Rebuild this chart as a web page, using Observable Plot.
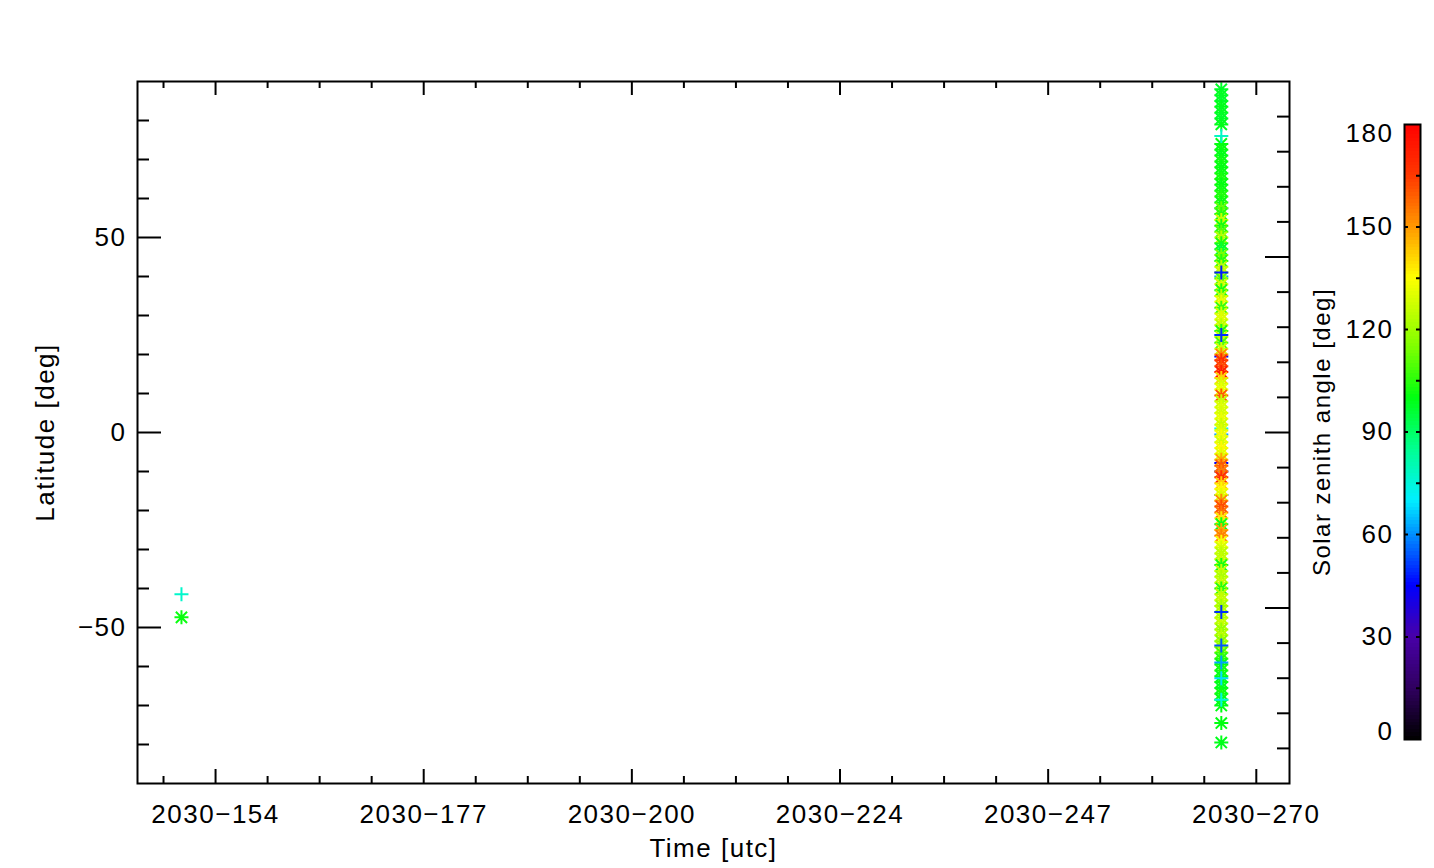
<!DOCTYPE html>
<html><head><meta charset="utf-8">
<script src="https://cdn.jsdelivr.net/npm/d3@7"></script>
<script src="https://cdn.jsdelivr.net/npm/@observablehq/plot@0.6"></script>
<style>
body{margin:0;background:#fff;}
#wrap{position:relative;width:1434px;height:868px;background:#fff;}
#wrap svg{position:absolute;top:0;background:transparent !important;}
#wrap text{letter-spacing:1.5px;}
</style></head><body><div id="wrap"></div>
<script>
// ---- axis ticks and labels ----
const xMajorTicks = [154, 177.2, 200.4, 223.6, 246.8, 270];
const xTickLabels = ["2030−154","2030−177","2030−200","2030−224","2030−247","2030−270"];
const xMinorTicks = [148.2,159.8,165.6,171.4,183.0,188.8,194.6,206.2,212.0,217.8,229.4,235.2,241.0,252.6,258.4,264.2];
const yMajorTicks = [-50, 0, 50];
const yTickLabels = ["−50", "0", "50"];
const yMinorTicks = [-80,-70,-60,-40,-30,-20,-10,10,20,30,40,60,70,80];
const yRightMajorTicks = [-45, 0, 45];
const yRightMinorTicks = [-81,-72,-63,-54,-36,-27,-18,-9,9,18,27,36,54,63,72,81];
const cbarTicks = [0, 30, 60, 90, 120, 150, 180];
const cbarMinorTicks = [15, 45, 75, 105, 135, 165];

// ---- colour table (solar zenith angle, deg) ----
const cmapStops  = [0, 15, 30, 45, 60, 70, 85, 100, 115, 135, 150, 165, 180];
const cmapColors = ["#000000","#300060","#4800a8","#0000ff","#0090ff","#00f0ff","#00ff90","#00ff10","#80ff00","#ffff00","#ff9800","#ff3800","#ff0000"];

// ---- data: day of year 2030, latitude (deg), solar zenith angle (deg) ----
const earlyDay = 150.2;
const earlyStarLat = [-47.4];
const earlyStarSza = [101];
const earlyPlusLat = [-41.5];
const earlyPlusSza = [77];

const columnDay = 266.1;
const columnStarLat = [88,86.5,85,83.5,82,80.5,79,
  74,72.5,71,69.5,68,66.5,65,63.5,62,60.5,59,
  57.5,56,54.5,53,51.5,50,48.5,47,45.5,44,42.5,41,
  39.5,38,36.5,35,33.5,32,30.5,29,27.5,26,24.5,23,21.5,20,
  18.5,17,15.5,14,12.5,11,9.5,8,6.5,5,3.5,2,0.5,
  -1,-2.5,-4,-5.5,-7,-8.5,-10,-11.5,-13,-14.5,-16,-17.5,-19,-20.5,-22,-23.5,-25,-26.5,-28,-29.5,-31,-32.5,-34,-35.5,-37,-38.5,-40,
  -41.5,-43,-44.5,-46,-47.5,-49,-50.5,-52,-53.5,-55,-56.5,-58,-59.5,-61,-62.5,-64,-65.5,-67,-68.5,-70,-74.5,-79.5];
const columnStarSza = [97,98,97,99,98,97,99,
  100,101,99,102,100,101,103,100,102,104,101,
  112,104,126,102,110,124,103,96,114,104,124,126,
  110,128,103,124,132,106,128,130,124,104,126,108,128,152,
  168,162,172,142,128,132,160,126,130,128,132,126,130,
  134,128,136,130,148,160,154,168,142,136,130,152,162,156,138,102,148,154,134,128,124,126,103,126,122,126,104,
  124,126,120,124,122,126,118,124,116,120,108,104,100,103,99,101,98,102,99,100,100,99];
// pluses drawn beneath the asterisks, then pluses drawn on top
const underPlusLat = [57.5, 40, 19.5, 1, -0.5, -7.8, -10, -16];
const underPlusSza = [64, 62, 46, 72, 62, 44, 42, 46];
const overPlusLat = [76, 41, 25, -46, -54.6, -59, -63, -68.5];
const overPlusSza = [78, 48, 50, 50, 54, 62, 68, 74];

// ---- build tables ----
const stars = earlyStarLat.map((lat, i) => ({day: earlyDay, lat, sza: earlyStarSza[i]}))
  .concat(columnStarLat.map((lat, i) => ({day: columnDay, lat, sza: columnStarSza[i]})));
const plusesUnder = underPlusLat.map((lat, i) => ({day: columnDay, lat, sza: underPlusSza[i]}));
const plusesOver = earlyPlusLat.map((lat, i) => ({day: earlyDay, lat, sza: earlyPlusSza[i]}))
  .concat(overPlusLat.map((lat, i) => ({day: columnDay, lat, sza: overPlusSza[i]})));

const cmap = d3.scaleLinear().domain(cmapStops).range(cmapColors).interpolate(d3.interpolateRgb).clamp(true);

const plusSymbol = {draw(ctx, size) {
  const k = Math.sqrt(size / Math.PI);
  ctx.moveTo(-k, 0); ctx.lineTo(k, 0); ctx.moveTo(0, -k); ctx.lineTo(0, k);
}};
const starSymbol = {draw(ctx, size) {
  const k = Math.sqrt(size / Math.PI), d = k * 0.8;
  ctx.moveTo(-k, 0); ctx.lineTo(k, 0); ctx.moveTo(0, -k); ctx.lineTo(0, k);
  ctx.moveTo(-d, -d); ctx.lineTo(d, d); ctx.moveTo(-d, d); ctx.lineTo(d, -d);
}};

const W = 1434, H = 868, mL = 137, mR = 145, mT = 81, mB = 85;
const fw = W - mL - mR, fh = H - mT - mB;
const font = "'Liberation Sans', Arial, sans-serif";
const fs = 26;

const dotOpts = {x: "day", y: "lat", stroke: d => cmap(d.sza), fill: "none", r: 7, strokeWidth: 2};

const main = Plot.plot({
  width: W, height: H,
  marginLeft: mL, marginRight: mR, marginTop: mT, marginBottom: mB,
  x: {domain: [145.3, 273.7], axis: null},
  y: {domain: [-90, 90], axis: null},
  style: {fontFamily: font, color: "black"},
  marks: [
    Plot.dot(plusesUnder, {...dotOpts, symbol: plusSymbol}),
    Plot.dot(stars, {...dotOpts, symbol: starSymbol}),
    Plot.dot(plusesOver, {...dotOpts, symbol: plusSymbol}),
    // left ticks
    Plot.ruleY(yMajorTicks, {insetRight: fw - 24, stroke: "black", strokeWidth: 2}),
    Plot.ruleY(yMinorTicks, {insetRight: fw - 12, stroke: "black", strokeWidth: 2}),
    // right ticks
    Plot.ruleY(yRightMajorTicks, {insetLeft: fw - 24, stroke: "black", strokeWidth: 2}),
    Plot.ruleY(yRightMinorTicks, {insetLeft: fw - 12, stroke: "black", strokeWidth: 2}),
    // bottom ticks
    Plot.ruleX(xMajorTicks, {insetTop: fh - 14, stroke: "black", strokeWidth: 2}),
    Plot.ruleX(xMinorTicks, {insetTop: fh - 7, stroke: "black", strokeWidth: 2}),
    // top ticks
    Plot.ruleX(xMajorTicks, {insetBottom: fh - 14, stroke: "black", strokeWidth: 2}),
    Plot.ruleX(xMinorTicks, {insetBottom: fh - 7, stroke: "black", strokeWidth: 2}),
    Plot.frame({stroke: "black", strokeWidth: 2}),
    // tick labels
    Plot.text(yMajorTicks, {y: d => d, text: (d, i) => yTickLabels[i], frameAnchor: "left", dx: -11, textAnchor: "end", fontSize: fs, fill: "black"}),
    Plot.text(xMajorTicks, {x: d => d, text: (d, i) => xTickLabels[i], frameAnchor: "bottom", dy: 31, lineAnchor: "middle", fontSize: fs, fill: "black"}),
    // axis titles
    Plot.text(["Time [utc]"], {text: d => d, frameAnchor: "bottom", dy: 65, lineAnchor: "middle", textAnchor: "middle", fontSize: fs, fill: "black"}),
    Plot.text(["Latitude [deg]"], {text: d => d, frameAnchor: "left", dx: -92, rotate: -90, lineAnchor: "middle", textAnchor: "middle", fontSize: fs, fill: "black"})
  ]
});
main.style.left = "0px";

// ---- colour bar ----
const cbL = 1292, barL = 1404, barR = 1420, barT = 124, barB = 739;
const cbar = Plot.plot({
  width: W - cbL, height: H,
  marginLeft: barL - cbL, marginRight: W - barR, marginTop: barT, marginBottom: H - barB,
  x: {domain: [0, 1], axis: null},
  y: {domain: [0, 180], axis: null},
  style: {fontFamily: font, color: "black"},
  marks: [
    Plot.rect(d3.range(0, 180, 1), {x1: 0, x2: 1, y1: d => d, y2: d => Math.min(180, d + 1.3), fill: d => cmap(d + 0.5), shapeRendering: "crispEdges"}),
    Plot.ruleY(cbarTicks.slice(1, -1), {insetRight: 12, stroke: "black", strokeWidth: 2}),
    Plot.ruleY(cbarTicks.slice(1, -1), {insetLeft: 12, stroke: "black", strokeWidth: 2}),
    Plot.ruleY(cbarMinorTicks, {insetLeft: 12, stroke: "black", strokeWidth: 2}),
    Plot.frame({stroke: "black", strokeWidth: 2}),
    Plot.text(cbarTicks.slice(1, -1), {y: d => d, text: d => String(d), frameAnchor: "left", dx: -11, textAnchor: "end", fontSize: fs, fill: "black"}),
    Plot.text(cbarTicks.slice(-1), {y: d => d, text: d => String(d), frameAnchor: "left", dx: -11, dy: 9, textAnchor: "end", fontSize: fs, fill: "black"}),
    Plot.text(cbarTicks.slice(0, 1), {y: d => d, text: d => String(d), frameAnchor: "left", dx: -11, dy: -8, textAnchor: "end", fontSize: fs, fill: "black"}),
    Plot.text(["Solar zenith angle [deg]"], {text: d => d, frameAnchor: "left", dx: -82, rotate: -90, lineAnchor: "middle", textAnchor: "middle", fontSize: 24, fill: "black"})
  ]
});
cbar.style.left = cbL + "px";

const wrap = document.getElementById("wrap");
wrap.appendChild(main);
wrap.appendChild(cbar);
</script>
</body></html>
